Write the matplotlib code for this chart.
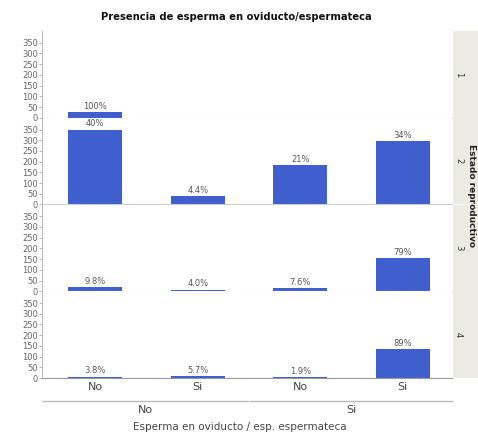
import matplotlib
matplotlib.use("Agg")
import matplotlib.pyplot as plt
from matplotlib.lines import Line2D

# Data
title = "Presencia de esperma en oviducto/espermateca"
x_labels = ["No", "Si", "No", "Si"]
group_labels = ["No", "Si"]
x_title = "Esperma en oviducto / esp. espermateca"
row_labels = ["1", "2", "3", "4"]
row_title = "Estado reproductivo"
counts = [
    [25, 0, 0, 0],
    [350, 38, 184, 297],
    [19, 8, 15, 155],
    [6, 9, 3, 135],
]
pct_labels = [
    ["100%", None, None, None],
    ["40%", "4.4%", "21%", "34%"],
    ["9.8%", "4.0%", "7.6%", "79%"],
    ["3.8%", "5.7%", "1.9%", "89%"],
]
y_ticks = [0, 50, 100, 150, 200, 250, 300, 350]

bar_color = "#3F5FCF"
W, H = 478, 434
fig = plt.figure(figsize=(W / 100, H / 100), dpi=100)
fig.patch.set_facecolor("white")

left_px, right_px, top_px, bot_px = 42, 452, 31, 378
ph = (bot_px - top_px) / 4
xs = range(len(x_labels))
axes = []
for i in range(4):
    y0 = top_px + i * ph
    ax = fig.add_axes([left_px / W, 1 - (y0 + ph) / H, (right_px - left_px) / W, ph / H])
    ax.bar(xs, counts[i], width=0.53, color=bar_color, zorder=2)
    for x, v, lab in zip(xs, counts[i], pct_labels[i]):
        if lab:
            ax.text(x, v + 6, lab, ha="center", va="bottom", fontsize=6, color="#555555")
    ax.set_xlim(-0.52, 3.48)
    ax.set_ylim(0, 405)
    ax.set_yticks(y_ticks)
    ax.set_yticklabels([str(t) for t in y_ticks], fontsize=6, color="#666666")
    ax.tick_params(axis="y", length=2, width=0.6, color="#aaaaaa", pad=1)
    for s in ["top", "right"]:
        ax.spines[s].set_visible(False)
    ax.spines["left"].set_color("#bbbbbb")
    ax.spines["left"].set_linewidth(0.8)
    ax.spines["bottom"].set_color("#cccccc")
    ax.spines["bottom"].set_linewidth(0.8)
    if i < 3:
        ax.set_xticks([])
    else:
        ax.set_xticks(list(xs))
        ax.set_xticklabels(x_labels, fontsize=8, color="#444444")
        ax.tick_params(axis="x", length=0, pad=3)
        ax.spines["bottom"].set_color("#999999")
    axes.append(ax)

    # strip on right
    sx = fig.add_axes([453 / W, 1 - (y0 + ph) / H, (W - 453) / W, ph / H])
    sx.set_facecolor("#ebebe2")
    sx.set_xticks([])
    sx.set_yticks([])
    for s in sx.spines.values():
        s.set_visible(False)
    sx.text(0.22, 0.5, row_labels[i], rotation=270, ha="center", va="center",
            fontsize=6, color="#333333", transform=sx.transAxes)

fig.text(471.5 / W, 1 - 195 / H, row_title, rotation=270, ha="center", va="center",
         fontsize=6.5, fontweight="bold", color="#222222")

fig.text(236 / W, 1 - 17 / H, title, ha="center", va="center", fontsize=7.2,
         fontweight="bold", color="#111111")

# group separator lines
for x0, x1 in [(42, 248), (250, 452)]:
    fig.add_artist(Line2D([x0 / W, x1 / W], [1 - 401 / H, 1 - 401 / H],
                          color="#bbbbbb", linewidth=1.0))
for g, xc in zip(group_labels, [145, 351]):
    fig.text(xc / W, 1 - 410 / H, g, ha="center", va="center", fontsize=8, color="#444444")
fig.text(240 / W, 1 - 427 / H, x_title, ha="center", va="center", fontsize=7.5, color="#444444")

fig.savefig("out.png", dpi=100)
